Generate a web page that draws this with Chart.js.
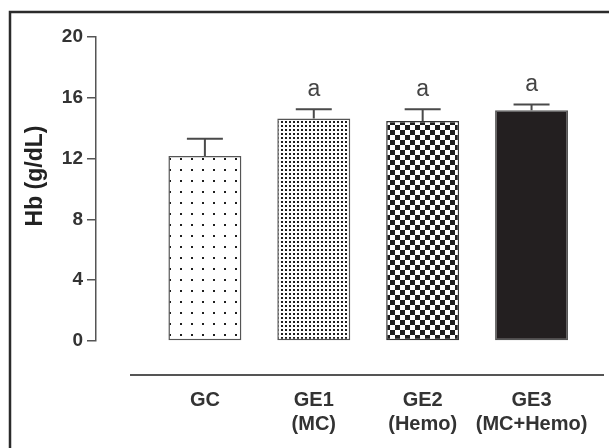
<!DOCTYPE html>
<html><head><meta charset="utf-8">
<script src="https://cdn.jsdelivr.net/npm/chart.js@4.4.1/dist/chart.umd.min.js"></script>
<style>html,body{margin:0;padding:0;background:#fff;overflow:hidden;} #wrap{width:609px;height:448px;position:relative;}</style>
</head><body><div id="wrap"><canvas id="c" width="609" height="448"></canvas></div>
<script>
const categories = [['GC'], ['GE1', '(MC)'], ['GE2', '(Hemo)'], ['GE3', '(MC+Hemo)']];
const hbMeans = [12.17, 14.63, 14.48, 15.18];
const hbErrors = [1.13, 0.62, 0.77, 0.38];
const sigLetters = ['', 'a', 'a', 'a'];
const yTicks = [0, 4, 8, 12, 16, 20];
const yTitle = 'Hb (g/dL)';

const FONT = '"Liberation Sans", Arial, sans-serif';

function makePattern(kind) {
  const t = document.createElement('canvas');
  let s;
  if (kind === 'sparse') s = 11; else if (kind === 'dense') s = 4; else s = 10;
  t.width = s; t.height = s;
  const g = t.getContext('2d');
  g.fillStyle = '#fff'; g.fillRect(0, 0, s, s);
  g.fillStyle = '#1e1e1e';
  if (kind === 'sparse') g.fillRect(4, 4, 2, 2);
  else if (kind === 'dense') g.fillRect(1, 1, 2, 2);
  else { g.fillRect(0, 0, 5, 5); g.fillRect(5, 5, 5, 5); }
  return document.getElementById('c').getContext('2d').createPattern(t, 'repeat');
}
const fills = [makePattern('sparse'), makePattern('dense'), makePattern('checker'), '#231f20'];

const decor = {
  id: 'decor',
  afterDatasetsDraw(chart) {
    const ctx = chart.ctx, ys = chart.scales.y;
    const meta = chart.getDatasetMeta(0);
    meta.data.forEach((bar, i) => {
      const top = ys.getPixelForValue(hbMeans[i] + hbErrors[i]);
      ctx.save();
      ctx.strokeStyle = '#4a4a4a'; ctx.lineWidth = 2;
      ctx.beginPath();
      ctx.moveTo(bar.x, bar.y); ctx.lineTo(bar.x, top);
      ctx.moveTo(bar.x - 18, top); ctx.lineTo(bar.x + 18, top);
      ctx.stroke();
      if (sigLetters[i]) {
        ctx.fillStyle = '#444'; ctx.font = '23px ' + FONT;
        ctx.textAlign = 'center'; ctx.textBaseline = 'middle';
        ctx.fillText(sigLetters[i], bar.x, top - 20);
      }
      ctx.restore();
    });
  },
  afterDraw(chart) {
    const ctx = chart.ctx, ca = chart.chartArea;
    ctx.save();
    // frame
    ctx.strokeStyle = '#2b2b2b'; ctx.lineWidth = 2.5;
    ctx.beginPath();
    ctx.moveTo(10, chart.height); ctx.lineTo(10, 12); ctx.lineTo(chart.width, 12);
    ctx.stroke();
    // separator line
    ctx.strokeStyle = '#555'; ctx.lineWidth = 2;
    ctx.beginPath();
    ctx.moveTo(ca.left + 34, ca.bottom + 34); ctx.lineTo(chart.width - 5, ca.bottom + 34);
    ctx.stroke();
    // y title
    ctx.translate(36, 176); ctx.rotate(-Math.PI / 2);
    ctx.fillStyle = '#222'; ctx.font = 'bold 23px ' + FONT;
    ctx.textAlign = 'center'; ctx.textBaseline = 'middle';
    ctx.fillText(yTitle, 0, 0);
    ctx.restore();
  }
};

new Chart(document.getElementById('c'), {
  type: 'bar',
  data: {
    datasets: [{
      data: hbMeans.map((v, i) => ({ x: i + 1, y: v })),
      backgroundColor: fills,
      borderColor: ['#555', '#555', '#333', '#555'],
      borderWidth: 1.5,
      borderSkipped: false,
      barPercentage: 0.67,
      categoryPercentage: 1
    }]
  },
  options: {
    responsive: false,
    devicePixelRatio: 1,
    animation: false,
    layout: { padding: { top: 37, right: 23, left: 0, bottom: 0 } },
    plugins: { legend: { display: false }, tooltip: { enabled: false } },
    scales: {
      x: {
        type: 'linear', min: 0, max: 4.5, offset: false,
        grid: { display: false }, border: { display: false },
        afterBuildTicks: s => { s.ticks = categories.map((c, i) => ({ value: i + 1 })); },
        ticks: {
          callback: v => categories[v - 1] || '',
          font: { family: FONT, size: 20, weight: 'bold', lineHeight: 1.2 },
          color: '#333', padding: 39, maxRotation: 0, autoSkip: false
        },
        afterFit: s => { s.height = 107; s.paddingLeft = 0; s.paddingRight = 0; }
      },
      y: {
        min: 0, max: 20,
        afterBuildTicks: s => { s.ticks = yTicks.map(v => ({ value: v })); },
        grid: { drawOnChartArea: false, tickLength: 9, color: '#555', lineWidth: 1.5 },
        border: { color: '#555', width: 1.5 },
        ticks: { font: { family: FONT, size: 19, weight: 'bold' }, color: '#333', padding: 4 },
        afterFit: s => { s.width = 96; s.paddingTop = 0; s.paddingBottom = 0; }
      }
    }
  },
  plugins: [decor]
});
</script>
</body></html>
